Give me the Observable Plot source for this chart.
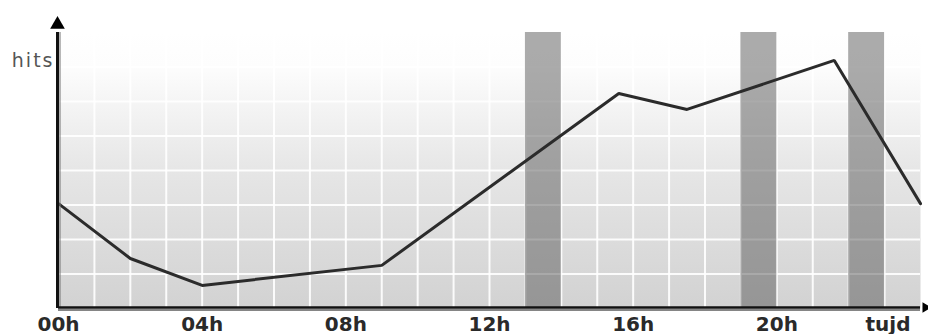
<!DOCTYPE html>
<html>
<head>
<meta charset="utf-8">
<script src="https://cdn.jsdelivr.net/npm/d3@7"></script>
<script src="https://cdn.jsdelivr.net/npm/@observablehq/plot@0.6"></script>
<style>
  html, body { margin: 0; padding: 0; background: #fff; }
  #chart svg { display: block; }
</style>
</head>
<body>
<div id="chart"></div>
<script>
const hours = [0, 2, 4, 9, 15.6, 17.5, 21.6, 24];
const hits = [3.04, 1.45, 0.67, 1.25, 6.23, 5.77, 7.19, 3.04];
const bandStart = [13, 19, 22];
const bandEnd = [14, 20, 23];
const tickHours = [0, 4, 8, 12, 16, 20];
const tickLabels = ["00h", "04h", "08h", "12h", "16h", "20h"];
const lastTickHour = [24];
const lastTickLabel = ["tujd"];
const gridHours = d3.range(1, 24);
const gridLevels = d3.range(1, 8);

const series = hours.map((h, i) => ({h, v: hits[i]}));
const bands = bandStart.map((s, i) => ({s, e: bandEnd[i]}));

const chart = Plot.plot({
  width: 928,
  height: 334,
  marginLeft: 58,
  marginRight: 8,
  marginTop: 32,
  marginBottom: 26,
  style: {background: "#fff", overflow: "visible"},
  x: {domain: [0, 24]},
  y: {domain: [0, 8], axis: null},
  marks: [
    Plot.frame({fill: "url(#bgGrad)", stroke: "none"}),
    Plot.ruleX(gridHours, {stroke: "#fff", strokeWidth: 2, strokeOpacity: 0.9}),
    Plot.ruleY(gridLevels, {stroke: "#fff", strokeWidth: 2, strokeOpacity: 0.9}),
    Plot.rectY(bands, {x1: "s", x2: "e", y1: 0, y2: 8, fill: "#606060", fillOpacity: 0.53}),
    Plot.line(series, {x: "h", y: "v", stroke: "#2b2b2b", strokeWidth: 3, strokeLinejoin: "miter"}),
    Plot.ruleX([0], {stroke: "#777", strokeWidth: 1.5, dx: 1.5, strokeOpacity: 0.7}),
    Plot.ruleY([0], {stroke: "#666", strokeWidth: 2, dy: 1.5, strokeOpacity: 0.8}),
    Plot.ruleX([0], {stroke: "#111", strokeWidth: 3, dx: -1}),
    Plot.ruleY([0], {stroke: "#111", strokeWidth: 2.5, dy: -1}),
    Plot.dot([8], {x: () => 0, y: d => d, symbol: "triangle2", r: 7, fill: "#000", stroke: "none", dx: -1, dy: -8}),
    Plot.dot([24], {x: d => d, y: () => 0, symbol: "triangle2", r: 5, fill: "#000", stroke: "none", rotate: 90, dx: 5, dy: -1}),
    Plot.axisX(tickHours, {
      tickSize: 0, tickPadding: 8,
      tickFormat: (d, i) => tickLabels[i],
      fontSize: 20, fontWeight: "bold", fontFamily: "DejaVu Sans",
      fill: "#2a2a2a", label: null
    }),
    Plot.axisX(lastTickHour, {
      tickSize: 0, tickPadding: 8,
      tickFormat: (d, i) => lastTickLabel[i],
      textAnchor: "end", dx: -10,
      fontSize: 20, fontWeight: "bold", fontFamily: "DejaVu Sans",
      fill: "#2a2a2a", label: null
    }),
    Plot.text(["hits"], {
      frameAnchor: "top-left", textAnchor: "end", lineAnchor: "bottom",
      dx: -4, dy: 34, fontSize: 19, fontFamily: "DejaVu Sans",
      fill: "#555"
    })
  ]
});

const defs = d3.create("svg:defs");
const grad = defs.append("linearGradient").attr("id", "bgGrad")
  .attr("x1", 0).attr("y1", 0).attr("x2", 0).attr("y2", 1);
grad.append("stop").attr("offset", "0").attr("stop-color", "#ffffff");
grad.append("stop").attr("offset", "0.12").attr("stop-color", "#fdfdfd");
grad.append("stop").attr("offset", "0.5").attr("stop-color", "#e6e6e6");
grad.append("stop").attr("offset", "1").attr("stop-color", "#d2d2d2");
chart.insertBefore(defs.node(), chart.firstChild);
chart.querySelectorAll("text").forEach(t => {
  if (t.textContent === "hits") t.setAttribute("letter-spacing", "2px");
});
document.getElementById("chart").append(chart);
</script>
</body>
</html>
